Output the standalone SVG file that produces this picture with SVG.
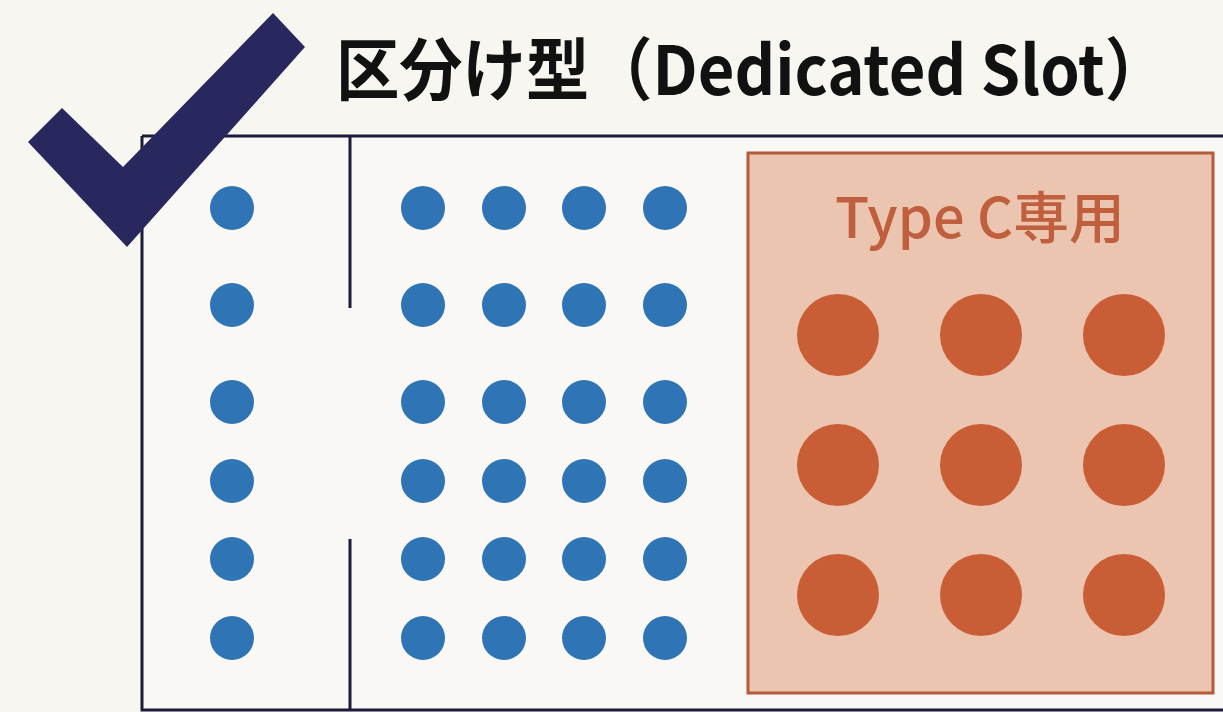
<svg xmlns="http://www.w3.org/2000/svg" width="1223" height="712" viewBox="0 0 1223 712">
<style>
.frame{fill:none;stroke:#1c1c3a;stroke-width:3}
.b{fill:#2f74b5}
.o{fill:#c95d35}
.title{font-family:"Noto Sans CJK JP","Noto Sans",sans-serif;font-weight:700;font-size:68px;fill:#111}
.lbl{font-family:"Noto Sans CJK JP","Noto Sans",sans-serif;font-weight:500;font-size:56px;fill:#bf5f3d}
</style>
<rect x="0" y="0" width="1223" height="712" fill="#f7f6f1"/>
<g id="frame">
<rect x="142" y="136" width="1090" height="574" fill="#f9f8f4"/>
<path class="frame" d="M142,136 H1223 M142,136 V710 H1223 M350,136 V308 M350,539 V710"/>
</g>
<g id="title">
<text class="title" x="336" y="95" textLength="832" lengthAdjust="spacingAndGlyphs">区分け型（Dedicated Slot）</text>
</g>
<g id="check">
<polygon points="28,142 62,108 123,167 273,13 305,47 127,247" fill="#28285f"/>
</g>
<g id="left-slots">
<circle class="b" cx="232" cy="208" r="22"/>
<circle class="b" cx="232" cy="305" r="22"/>
<circle class="b" cx="232" cy="402" r="22"/>
<circle class="b" cx="232" cy="481" r="22"/>
<circle class="b" cx="232" cy="559" r="22"/>
<circle class="b" cx="232" cy="638" r="22"/>
</g>
<g id="grid-slots">
<circle class="b" cx="423" cy="208" r="22"/><circle class="b" cx="504" cy="208" r="22"/><circle class="b" cx="584" cy="208" r="22"/><circle class="b" cx="665" cy="208" r="22"/>
<circle class="b" cx="423" cy="305" r="22"/><circle class="b" cx="504" cy="305" r="22"/><circle class="b" cx="584" cy="305" r="22"/><circle class="b" cx="665" cy="305" r="22"/>
<circle class="b" cx="423" cy="402" r="22"/><circle class="b" cx="504" cy="402" r="22"/><circle class="b" cx="584" cy="402" r="22"/><circle class="b" cx="665" cy="402" r="22"/>
<circle class="b" cx="423" cy="481" r="22"/><circle class="b" cx="504" cy="481" r="22"/><circle class="b" cx="584" cy="481" r="22"/><circle class="b" cx="665" cy="481" r="22"/>
<circle class="b" cx="423" cy="559" r="22"/><circle class="b" cx="504" cy="559" r="22"/><circle class="b" cx="584" cy="559" r="22"/><circle class="b" cx="665" cy="559" r="22"/>
<circle class="b" cx="423" cy="638" r="22"/><circle class="b" cx="504" cy="638" r="22"/><circle class="b" cx="584" cy="638" r="22"/><circle class="b" cx="665" cy="638" r="22"/>
</g>
<g id="typec">
<rect x="748" y="153" width="465" height="540" fill="#ebc5b0" stroke="#b55a3a" stroke-width="3"/>
<text class="lbl" x="835" y="238" textLength="290" lengthAdjust="spacingAndGlyphs">Type C専用</text>
<circle class="o" cx="838" cy="335" r="41"/><circle class="o" cx="981" cy="335" r="41"/><circle class="o" cx="1124" cy="335" r="41"/>
<circle class="o" cx="838" cy="465" r="41"/><circle class="o" cx="981" cy="465" r="41"/><circle class="o" cx="1124" cy="465" r="41"/>
<circle class="o" cx="838" cy="595" r="41"/><circle class="o" cx="981" cy="595" r="41"/><circle class="o" cx="1124" cy="595" r="41"/>
</g>
</svg>
